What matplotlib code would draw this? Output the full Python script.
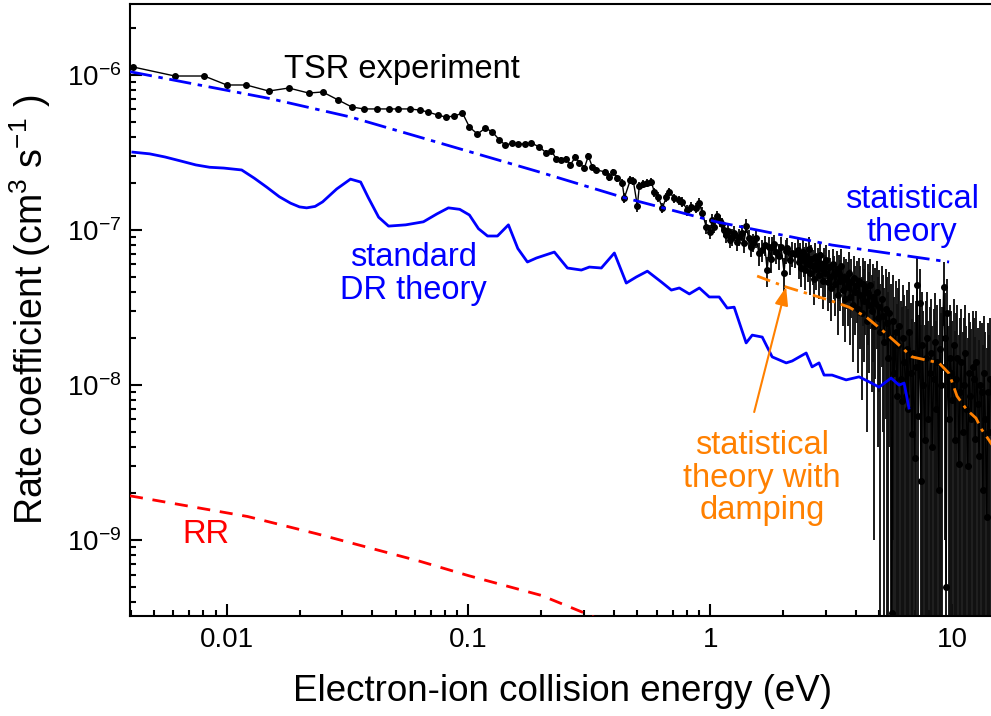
import matplotlib
matplotlib.use("Agg")
import matplotlib.pyplot as plt
from matplotlib.ticker import LogLocator, FuncFormatter, NullFormatter

plt.rcParams['font.family'] = ['Liberation Sans', 'DejaVu Sans']
plt.rcParams['mathtext.default'] = 'regular'

# TSR experiment (energy in eV, rate in cm^3 s^-1, 1 sigma error)
tsr_energy = [0.00409, 0.00610, 0.00807, 0.0100, 0.01205, 0.01492, 0.01805, 0.02182, 0.02493, 0.02891,
              0.03289, 0.03684, 0.04169, 0.04670, 0.05090, 0.05705, 0.06278, 0.06813, 0.07447, 0.08035,
              0.08750, 0.09441, 0.1009, 0.1089, 0.1175, 0.1256, 0.1343, 0.1422, 0.1520, 0.1610,
              0.1721, 0.1822, 0.1965, 0.2101, 0.2203, 0.2310, 0.2423, 0.2541, 0.2639, 0.2767,
              0.2875, 0.3015, 0.3132, 0.3254, 0.3381, 0.3683, 0.3826, 0.3975, 0.4130, 0.4326,
              0.4412, 0.4671, 0.4808, 0.4995, 0.5090, 0.5288, 0.5494, 0.5708, 0.5872, 0.6101,
              0.6338, 0.6585, 0.6774, 0.7097, 0.7447, 0.7661, 0.8035, 0.8347, 0.8750, 0.9010,
              0.9268, 0.9630,
              1.000, 1.019, 1.040, 1.068, 1.095, 1.121, 1.140, 1.165, 1.188, 1.210,
              1.233, 1.257, 1.287, 1.318, 1.350, 1.380, 1.409, 1.440, 1.477, 1.510,
              1.549, 1.590, 1.640, 1.680, 1.720, 1.754, 1.780, 1.805, 1.840, 1.874,
              1.920, 1.965, 2.022, 2.050, 2.081, 2.130, 2.183, 2.240,
              2.30, 2.33, 2.36, 2.38, 2.41, 2.44, 2.47, 2.50, 2.53, 2.56,
              2.59, 2.62, 2.65, 2.68, 2.72, 2.75, 2.78, 2.82, 2.85, 2.88,
              2.92, 2.95, 2.99, 3.02, 3.06, 3.10, 3.13, 3.17, 3.21, 3.25,
              3.29, 3.33, 3.37, 3.41, 3.45, 3.49, 3.53, 3.57, 3.62, 3.66,
              3.70, 3.75, 3.79, 3.84, 3.89, 3.93, 3.98, 4.03, 4.08, 4.13,
              4.18, 4.23, 4.28, 4.33, 4.38, 4.44, 4.49, 4.54, 4.60, 4.65,
              4.71, 4.77, 4.82, 4.88, 4.94, 5.00, 5.06, 5.12, 5.18, 5.25,
              5.31, 5.37, 5.44, 5.50, 5.57, 5.64, 5.70, 5.77, 5.84, 5.91,
              5.99, 6.06, 6.13, 6.21, 6.28, 6.36, 6.43, 6.51, 6.59, 6.67,
              6.75, 6.83, 6.92, 7.00, 7.09, 7.17, 7.26, 7.35, 7.44, 7.53,
              7.62, 7.71, 7.80, 7.90, 7.99, 8.09, 8.19, 8.29, 8.39, 8.49,
              8.59, 8.70, 8.80, 8.91, 9.02, 9.12, 9.23, 9.35, 9.46, 9.57,
              9.69, 9.81, 9.93, 10.05, 10.17, 10.29, 10.42, 10.54, 10.67, 10.80,
              10.93, 11.06, 11.20, 11.33, 11.47, 11.61, 11.75, 11.89, 12.04, 12.18,
              12.33, 12.48, 12.63, 12.79, 12.94, 13.10, 13.26, 13.42, 13.58, 13.74,
              13.91, 14.08, 14.25, 14.42]
tsr_rate = [1.127e-6, 9.85e-7, 9.85e-7, 8.62e-7, 8.62e-7, 7.88e-7, 8.24e-7, 7.65e-7, 7.77e-7, 6.90e-7,
            6.22e-7, 6.04e-7, 6.04e-7, 6.04e-7, 6.04e-7, 6.04e-7, 5.94e-7, 5.77e-7, 5.52e-7, 5.36e-7,
            5.43e-7, 5.69e-7, 4.62e-7, 4.16e-7, 4.55e-7, 4.29e-7, 3.81e-7, 3.53e-7, 3.64e-7, 3.59e-7,
            3.59e-7, 3.64e-7, 3.43e-7, 3.14e-7, 3.24e-7, 2.87e-7, 2.83e-7, 2.87e-7, 2.63e-7, 2.96e-7,
            2.70e-7, 2.51e-7, 3.00e-7, 2.55e-7, 2.44e-7, 2.37e-7, 2.20e-7, 2.37e-7, 2.16e-7, 2.01e-7,
            1.61e-7, 2.10e-7, 2.07e-7, 1.43e-7, 1.92e-7, 1.98e-7, 2.01e-7, 2.04e-7, 1.76e-7, 1.63e-7,
            1.39e-7, 1.63e-7, 1.76e-7, 1.61e-7, 1.56e-7, 1.52e-7, 1.35e-7, 1.41e-7, 1.39e-7, 1.49e-7,
            1.29e-7, 1.05e-7,
            9.70e-8, 1.16e-7, 1.05e-7, 1.23e-7, 1.15e-7, 1.09e-7, 1.00e-7, 9.29e-8, 9.90e-8, 8.61e-8,
            9.00e-8, 9.57e-8, 8.40e-8, 9.01e-8, 9.60e-8, 8.20e-8, 1.06e-7, 8.90e-8, 7.76e-8, 8.30e-8,
            8.87e-8, 7.10e-8, 7.43e-8, 8.00e-8, 5.52e-8, 7.76e-8, 6.50e-8, 7.76e-8, 8.10e-8, 7.21e-8,
            6.80e-8, 7.76e-8, 5.28e-8, 7.30e-8, 7.65e-8, 6.40e-8, 7.11e-8, 7.00e-8,
            7.4e-8, 6.2e-8, 6.9e-8, 5.7e-8, 7.2e-8, 6.4e-8, 5.5e-8, 6.8e-8, 6.0e-8, 7.6e-8,
            5.3e-8, 6.5e-8, 5.9e-8, 4.8e-8, 6.7e-8, 5.6e-8, 6.2e-8, 5.1e-8, 6.9e-8, 5.7e-8,
            4.7e-8, 6.1e-8, 5.3e-8, 6.4e-8, 4.6e-8, 5.8e-8, 5.0e-8, 4.2e-8, 6.0e-8, 5.2e-8,
            4.5e-8, 5.6e-8, 3.8e-8, 5.2e-8, 4.7e-8, 5.9e-8, 4.1e-8, 5.0e-8, 3.6e-8, 4.8e-8,
            4.3e-8, 5.3e-8, 3.7e-8, 4.6e-8, 3.3e-8, 4.9e-8, 4.0e-8, 4.4e-8, 3.1e-8, 4.7e-8,
            3.8e-8, 2.9e-8, 4.5e-8, 3.5e-8, 4.2e-8, 2.6e-8, 3.9e-8, 3.3e-8, 4.4e-8, 3.0e-8,
            3.7e-8, 2.4e-8, 3.4e-8, 4.0e-8, 2.7e-8, 3.2e-8, 2.2e-8, 3.6e-8, 2.8e-8, 1.9e-8,
            3.1e-8, 2.5e-8, 1.5e-8, 2.9e-8, 2.0e-8, 3.4e-10, 2.6e-8, 1.2e-8, 2.2e-8, 8.5e-9,
            1.8e-8, 2.4e-8, 1.1e-8, 7.9e-9, 2.0e-8, 1.4e-8, 8.5e-9, 1.7e-8, 7.0e-9, 2.2e-8,
            1.2e-8, 4.8e-9, 1.6e-8, 3.4e-9, 1.3e-8, 4.4e-8, 6.3e-9, 3.4e-8, 2.4e-9, 1.8e-8,
            1.0e-8, 4.4e-9, 1.5e-8, 2.0e-8, 6.0e-9, 1.2e-8, 1.6e-8, 4.0e-9, 1.1e-8, 1.9e-8,
            7.0e-9, 1.4e-8, 2.1e-9, 1.7e-8, 1.0e-8, 1.3e-8, 4.3e-8, 2.0e-8, 5.0e-10, 2.9e-8,
            6.0e-9, 1.5e-8, 1.2e-8, 8.0e-9, 1.8e-8, 4.4e-9, 1.1e-8, 1.5e-8, 3.1e-9, 9.0e-9,
            1.4e-8, 5.0e-9, 1.0e-8, 1.6e-8, 7.0e-9, 3.0e-9, 1.2e-8, 8.5e-9, 6.0e-9, 1.3e-8,
            1.1e-8, 4.5e-9, 1.4e-8, 7.5e-9, 3.5e-9, 1.0e-8, 9.0e-9, 2.1e-9, 1.2e-8, 6.0e-9,
            1.4e-9, 9.0e-9, 5.0e-9, 1.1e-8]
tsr_err = [3.5e-8, 3.0e-8, 3.0e-8, 2.6e-8, 2.6e-8, 2.4e-8, 2.5e-8, 2.3e-8, 2.3e-8, 2.1e-8,
           1.9e-8, 1.8e-8, 1.8e-8, 1.8e-8, 1.8e-8, 1.8e-8, 1.8e-8, 1.7e-8, 1.7e-8, 1.6e-8,
           1.6e-8, 1.7e-8, 1.6e-8, 1.5e-8, 1.6e-8, 1.5e-8, 1.4e-8, 1.3e-8, 1.3e-8, 1.3e-8,
           1.3e-8, 1.3e-8, 1.3e-8, 1.2e-8, 1.2e-8, 1.2e-8, 1.2e-8, 1.2e-8, 1.2e-8, 1.2e-8,
           1.2e-8, 1.2e-8, 1.2e-8, 1.2e-8, 1.2e-8, 1.2e-8, 1.2e-8, 1.2e-8, 1.2e-8, 1.2e-8,
           1.2e-8, 1.2e-8, 1.2e-8, 1.2e-8, 1.2e-8, 1.2e-8, 1.2e-8, 1.2e-8, 1.2e-8, 1.2e-8,
           1.1e-8, 1.1e-8, 1.1e-8, 1.1e-8, 1.1e-8, 1.1e-8, 1.1e-8, 1.1e-8, 1.1e-8, 1.1e-8,
           1.1e-8, 1.1e-8,
           1.0e-8, 1.0e-8, 1.0e-8, 1.0e-8, 1.0e-8, 1.0e-8, 1.0e-8, 1.0e-8, 1.0e-8, 1.0e-8,
           1.1e-8, 1.1e-8, 1.1e-8, 1.1e-8, 1.1e-8, 1.1e-8, 1.1e-8, 1.1e-8, 1.1e-8, 1.1e-8,
           1.2e-8, 1.2e-8, 1.2e-8, 1.2e-8, 1.2e-8, 1.2e-8, 1.2e-8, 1.2e-8, 1.2e-8, 1.2e-8,
           1.3e-8, 1.3e-8, 1.3e-8, 1.3e-8, 1.3e-8, 1.3e-8, 1.3e-8, 1.3e-8,
           1.4e-8, 1.4e-8, 1.4e-8, 1.4e-8, 1.4e-8, 1.4e-8, 1.4e-8, 1.4e-8, 1.4e-8, 1.4e-8,
           1.5e-8, 1.5e-8, 1.5e-8, 1.5e-8, 1.5e-8, 1.5e-8, 1.5e-8, 1.5e-8, 1.5e-8, 1.5e-8,
           1.6e-8, 1.6e-8, 1.6e-8, 1.6e-8, 1.6e-8, 1.6e-8, 1.6e-8, 1.6e-8, 1.6e-8, 1.6e-8,
           1.7e-8, 1.7e-8, 1.7e-8, 1.7e-8, 1.7e-8, 1.7e-8, 1.7e-8, 1.7e-8, 1.7e-8, 1.7e-8,
           1.9e-8, 1.9e-8, 1.9e-8, 1.9e-8, 1.9e-8, 1.9e-8, 1.9e-8, 1.9e-8, 1.9e-8, 1.9e-8,
           2.1e-8, 2.1e-8, 2.1e-8, 2.1e-8, 2.1e-8, 2.1e-8, 2.1e-8, 2.1e-8, 2.1e-8, 2.1e-8,
           2.3e-8, 2.3e-8, 2.3e-8, 2.3e-8, 2.3e-8, 2.3e-8, 2.3e-8, 2.3e-8, 2.3e-8, 2.3e-8,
           2.5e-8, 2.5e-8, 2.5e-8, 2.5e-8, 2.5e-8, 2.5e-8, 2.5e-8, 2.5e-8, 2.5e-8, 2.5e-8,
           2.4e-8, 2.4e-8, 2.4e-8, 2.4e-8, 2.4e-8, 2.4e-8, 2.4e-8, 2.4e-8, 2.4e-8, 2.4e-8,
           2.2e-8, 2.2e-8, 2.2e-8, 2.2e-8, 2.2e-8, 2.2e-8, 2.2e-8, 2.2e-8, 2.2e-8, 2.2e-8,
           2.0e-8, 2.0e-8, 2.0e-8, 2.0e-8, 2.0e-8, 2.0e-8, 2.0e-8, 2.0e-8, 2.0e-8, 2.0e-8,
           1.9e-8, 1.9e-8, 1.9e-8, 1.9e-8, 1.9e-8, 1.9e-8, 1.9e-8, 1.9e-8, 1.9e-8, 1.9e-8,
           1.8e-8, 1.8e-8, 1.8e-8, 1.8e-8, 1.8e-8, 1.8e-8, 1.8e-8, 1.8e-8, 1.8e-8, 1.8e-8,
           1.7e-8, 1.7e-8, 1.7e-8, 1.7e-8, 1.7e-8, 1.7e-8, 1.7e-8, 1.7e-8, 1.7e-8, 1.7e-8,
           1.6e-8, 1.6e-8, 1.6e-8, 1.6e-8, 1.6e-8, 1.6e-8, 1.6e-8, 1.6e-8, 1.6e-8, 1.6e-8,
           1.6e-8, 1.6e-8, 1.6e-8, 1.6e-8]

# standard DR theory
dr_energy = [0.00409, 0.0048, 0.00555, 0.0065, 0.00745, 0.0085, 0.00972, 0.01153, 0.0130, 0.01464,
             0.0165, 0.01837, 0.0200, 0.02141, 0.0232, 0.02493, 0.0285, 0.0325, 0.0358, 0.0385,
             0.0425, 0.0467, 0.055, 0.0651, 0.074, 0.0826, 0.092, 0.1009, 0.110, 0.1199,
             0.1318, 0.1463, 0.160, 0.1753, 0.1910, 0.2266, 0.2566, 0.2931, 0.3162, 0.3545,
             0.4013, 0.4495, 0.4946, 0.5495, 0.6281, 0.6906, 0.7453, 0.8195, 0.9016, 0.9908,
             1.089, 1.175, 1.256, 1.408, 1.492, 1.641, 1.804, 2.062, 2.183, 2.494,
             2.638, 2.819, 2.958, 3.192, 3.648, 4.128, 4.540, 4.993, 5.598, 6.039,
             6.339, 6.637]
dr_rate = [3.18e-7, 3.10e-7, 2.96e-7, 2.78e-7, 2.63e-7, 2.54e-7, 2.51e-7, 2.44e-7, 2.16e-7, 1.89e-7,
           1.64e-7, 1.49e-7, 1.41e-7, 1.39e-7, 1.42e-7, 1.52e-7, 1.84e-7, 2.13e-7, 2.04e-7, 1.62e-7,
           1.21e-7, 1.06e-7, 1.08e-7, 1.13e-7, 1.27e-7, 1.39e-7, 1.36e-7, 1.25e-7, 1.02e-7, 9.15e-8,
           9.15e-8, 1.08e-7, 7.6e-8, 6.22e-8, 6.60e-8, 7.21e-8, 5.69e-8, 5.52e-8, 5.77e-8, 5.69e-8,
           7.11e-8, 4.55e-8, 4.98e-8, 5.43e-8, 4.62e-8, 4.10e-8, 4.23e-8, 3.87e-8, 4.23e-8, 3.70e-8,
           3.70e-8, 3.14e-8, 3.18e-8, 1.87e-8, 2.10e-8, 2.04e-8, 1.52e-8, 1.39e-8, 1.43e-8, 1.61e-8,
           1.31e-8, 1.39e-8, 1.16e-8, 1.16e-8, 1.08e-8, 1.13e-8, 1.05e-8, 9.70e-9, 1.11e-8, 1.00e-8,
           1.03e-8, 7.11e-9]

# statistical theory
stat_energy = [0.00398, 0.01506, 0.0325, 0.196, 0.4325, 1.059, 3.19, 9.73]
stat_rate = [1.05e-6, 7.05e-7, 5.36e-7, 2.37e-7, 1.63e-7, 1.13e-7, 8.0e-8, 6.22e-8]

# statistical theory with damping
damp_energy = [1.563, 2.062, 3.104, 3.753, 4.413, 5.140, 6.039, 6.839, 8.831, 9.722,
               10.49, 11.54, 12.57, 13.31, 14.22, 15.5]
damp_rate = [5.05e-8, 4.29e-8, 3.53e-8, 3.18e-8, 2.75e-8, 2.26e-8, 1.81e-8, 1.52e-8, 1.39e-8, 1.19e-8,
             8.49e-9, 6.90e-9, 6.12e-9, 5.13e-9, 4.42e-9, 3.6e-9]

# radiative recombination
rr_energy = [0.00398, 0.0122, 0.0235, 0.063, 0.1, 0.2, 0.3, 0.36]
rr_rate = [1.93e-9, 1.42e-9, 1.10e-9, 7.3e-10, 5.9e-10, 4.4e-10, 3.4e-10, 3.0e-10]

orange = '#FF8000'

fig = plt.figure(figsize=(9.91, 7.16), dpi=100)
ax = fig.add_axes([130 / 991, 100 / 716, 870 / 991, 612 / 716])
ax.set_xscale('log')
ax.set_yscale('log')

ax.errorbar(tsr_energy, tsr_rate, yerr=tsr_err, fmt='o-', color='black', ms=4, lw=1.0,
            elinewidth=1.35, ecolor='#111111', capsize=0, zorder=2)
ax.plot(rr_energy, rr_rate, color='red', lw=2, ls=(0, (4.7, 3.5)), zorder=3)
ax.plot(dr_energy, dr_rate, color='blue', lw=2, zorder=3)
ax.plot(stat_energy, stat_rate, color='blue', lw=2, ls=(0, (8, 2.4, 1.6, 2.4)), zorder=3)
ax.plot(damp_energy, damp_rate, color=orange, lw=2, ls=(0, (5, 2.2, 1.2, 2.2)), zorder=3)

ax.text(0.0172, 9.57e-7, 'TSR experiment', fontsize=23.5, color='black', va='baseline', ha='left')
ax.text(0.0593, 5.2e-8, 'standard\nDR theory', fontsize=23.5, color='blue', ha='center', va='center',
        linespacing=1.05)
ax.text(6.84, 1.23e-7, 'statistical\ntheory', fontsize=23.5, color='blue', ha='center', va='center',
        linespacing=1.05)
ax.text(1.64, 2.51e-9, 'statistical\ntheory with\ndamping', fontsize=23.5, color=orange, ha='center',
        va='center', linespacing=1.05)
ax.text(0.00819, 1.09e-9, 'RR', fontsize=23.5, color='red', ha='center', va='center')
ax.annotate('', xy=(2.06, 4.3e-8), xytext=(1.52, 6.7e-9),
            arrowprops=dict(arrowstyle='-|>,head_length=0.55,head_width=0.2', color=orange, lw=1.5,
                            mutation_scale=20, shrinkA=0, shrinkB=0))

ax.set_xlim(0.00398, 15.8)
ax.set_ylim(3.24e-10, 2.87e-6)

ax.xaxis.set_major_formatter(FuncFormatter(lambda v, p: '%g' % v))
ax.xaxis.set_minor_locator(LogLocator(base=10, subs=range(2, 10), numticks=20))
ax.xaxis.set_minor_formatter(NullFormatter())
ax.yaxis.set_minor_locator(LogLocator(base=10, subs=range(2, 10), numticks=20))
ax.yaxis.set_minor_formatter(NullFormatter())

ax.tick_params(which='both', direction='in', top=False, right=False, width=1.5, labelsize=20)
ax.tick_params(which='major', length=8.5)
ax.tick_params(which='minor', length=4.5)
ax.tick_params(axis='x', pad=8)
ax.tick_params(axis='y', pad=6)
for s in ax.spines.values():
    s.set_linewidth(1.5)

ax.set_xlabel('Electron-ion collision energy (eV)', fontsize=26.5)
ax.set_ylabel('Rate coefficient (cm$^{3}$ s$^{-1}$ )', fontsize=27)
ax.xaxis.set_label_coords(0.497, -0.094)
ax.yaxis.set_label_coords(-0.088, 0.5)

fig.savefig('out.png', dpi=100)
